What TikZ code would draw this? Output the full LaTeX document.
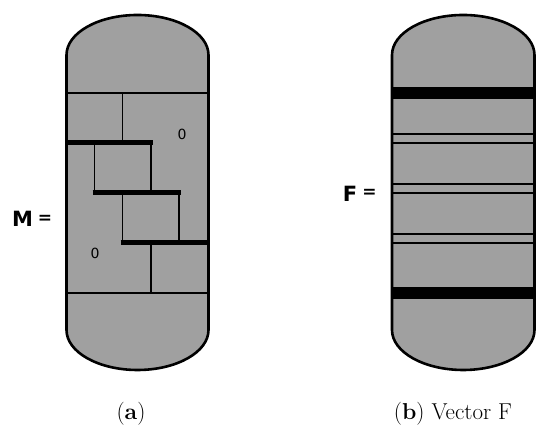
\documentclass[tikz,border=0pt]{standalone}
\usepackage{fontspec}
\newfontfamily\labfont{DejaVu Sans}
\definecolor{capfill}{RGB}{160,160,160}
\begin{document}
\begin{tikzpicture}[x=1pt,y=1pt,
  thinline/.style={line width=1.8pt},
  thickline/.style={line width=5pt},
  bandline/.style={line width=12pt},
  outline/.style={line width=2.6pt, line join=round},
  eqletter/.style={font=\labfont\bfseries\fontsize{21}{24}\selectfont, inner sep=0pt},
  eqsign/.style={font=\labfont\bfseries\fontsize{17}{19}\selectfont, inner sep=0pt},
  zerolabel/.style={font=\labfont\fontsize{14}{16}\selectfont, inner sep=0pt},
  caption/.style={font=\fontsize{23}{27}\selectfont, inner sep=0pt}]
\useasboundingbox (0,0) rectangle (550,438);

% ---------- left capsule (a)
\fill[capfill] (66.5,108) -- (66.5,383) arc[start angle=180,end angle=0,x radius=71,y radius=40]
  -- (208.5,108) arc[start angle=0,end angle=-180,x radius=71,y radius=40] -- cycle;
\draw[thinline] (66.5,345) -- (208.5,345);
\draw[thinline] (66.5,145) -- (208.5,145);
\draw[thinline] (122.5,345) -- (122.5,295);
\draw[thinline] (151,295) -- (151,245);
\draw[thinline] (94.5,295) -- (94.5,245);
\draw[thinline] (179,245) -- (179,195);
\draw[thinline] (122.5,245) -- (122.5,195);
\draw[thinline] (151,195) -- (151,145);
\draw[thickline] (66.5,295) -- (153,295);
\draw[thickline] (92.5,245) -- (181,245);
\draw[thickline] (120.5,195) -- (208.5,195);
\node[zerolabel] (z1) at (182,304) {0};
\node[zerolabel] (z2) at (95,185) {0};
\draw[outline] (66.5,108) -- (66.5,383) arc[start angle=180,end angle=0,x radius=71,y radius=40]
  -- (208.5,108) arc[start angle=0,end angle=-180,x radius=71,y radius=40] -- cycle;
\node[eqletter] (mlab) at (22.6,219) {M};
\node[eqsign] (meq) at (45,219) {=};

% ---------- right capsule (b)
\fill[capfill] (392,108) -- (392,383) arc[start angle=180,end angle=0,x radius=71.25,y radius=40]
  -- (534.5,108) arc[start angle=0,end angle=-180,x radius=71.25,y radius=40] -- cycle;
\draw[bandline] (392,345) -- (534.5,345);
\draw[bandline] (392,145) -- (534.5,145);
\foreach \yy in {304,295,254,245,204,195}
  \draw[line width=1.6pt] (392,\yy) -- (534.5,\yy);
\draw[outline] (392,108) -- (392,383) arc[start angle=180,end angle=0,x radius=71.25,y radius=40]
  -- (534.5,108) arc[start angle=0,end angle=-180,x radius=71.25,y radius=40] -- cycle;
\node[eqletter] (flab) at (350,244.5) {F};
\node[eqsign] (feq) at (369.5,244.5) {=};

% ---------- captions
\node[caption] (capa) at (131,24) {(\textbf{a})};
\node[caption] (capb) at (453,24) {(\textbf{b}) Vector F};
\end{tikzpicture}
\end{document}
